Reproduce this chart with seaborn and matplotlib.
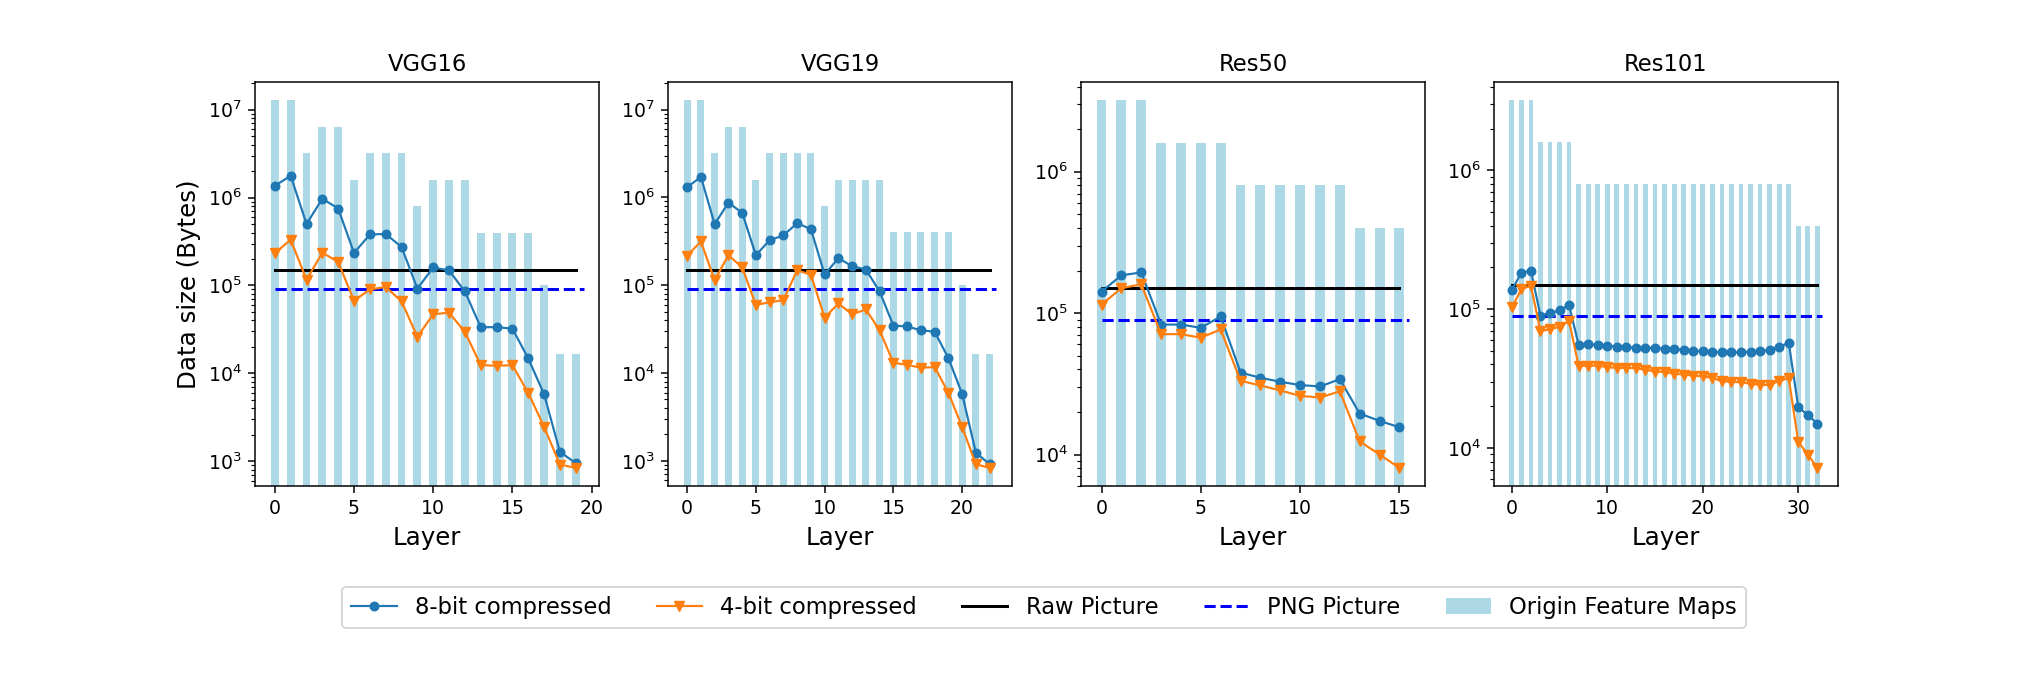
"""
Compressed feature map size per layer vs raw / PNG picture size.
Output: out.png
"""

import numpy as np
import pandas as pd
import matplotlib
matplotlib.use("Agg")
import matplotlib.pyplot as plt
import seaborn as sns

# ==========================================
# 1. DATA (Bytes)
# ==========================================
MODELS = ["VGG16", "VGG19", "Res50", "Res101"]

RAW_PICTURE = 1.5e5
PNG_PICTURE = 9.0e4

vgg16_maps = [1.28e7, 1.28e7, 3.2e6, 6.4e6, 6.4e6, 1.6e6, 3.2e6, 3.2e6, 3.2e6, 8.0e5,
              1.6e6, 1.6e6, 1.6e6, 4.0e5, 4.0e5, 4.0e5, 4.0e5, 1.0e5, 1.64e4, 1.64e4]
vgg16_8bit = [1.36e6, 1.77e6, 5.0e5, 9.7e5, 7.5e5, 2.34e5, 3.8e5, 3.85e5, 2.74e5, 9.2e4,
              1.6e5, 1.48e5, 8.55e4, 3.35e4, 3.35e4, 3.23e4, 1.48e4, 5.8e3, 1.28e3, 9.5e2]
vgg16_4bit = [2.32e5, 3.32e5, 1.16e5, 2.36e5, 1.85e5, 6.7e4, 9.0e4, 9.6e4, 6.6e4, 2.6e4,
              4.7e4, 4.9e4, 2.96e4, 1.24e4, 1.22e4, 1.24e4, 6.0e3, 2.47e3, 9.16e2, 8.4e2]

vgg19_maps = [1.28e7, 1.28e7, 3.2e6, 6.4e6, 6.4e6, 1.6e6, 3.2e6, 3.2e6, 3.2e6, 3.2e6,
              8.0e5, 1.6e6, 1.6e6, 1.6e6, 1.6e6, 4.0e5, 4.0e5, 4.0e5, 4.0e5, 4.0e5,
              1.0e5, 1.64e4, 1.64e4]
vgg19_8bit = [1.31e6, 1.71e6, 4.97e5, 8.7e5, 6.7e5, 2.2e5, 3.26e5, 3.69e5, 5.1e5, 4.35e5,
              1.33e5, 2.03e5, 1.65e5, 1.51e5, 8.5e4, 3.47e4, 3.4e4, 3.07e4, 2.96e4, 1.48e4,
              5.8e3, 1.24e3, 9.16e2]
vgg19_4bit = [2.18e5, 3.15e5, 1.14e5, 2.2e5, 1.6e5, 5.97e4, 6.4e4, 6.75e4, 1.48e5, 1.32e5,
              4.28e4, 6.2e4, 4.67e4, 5.3e4, 3.07e4, 1.31e4, 1.24e4, 1.15e4, 1.17e4, 5.97e3,
              2.44e3, 9.16e2, 8.32e2]

res50_maps = [3.2e6, 3.2e6, 3.2e6, 1.6e6, 1.6e6, 1.6e6, 1.6e6, 8.0e5, 8.0e5, 8.0e5,
              8.0e5, 8.0e5, 8.0e5, 4.0e5, 4.0e5, 4.0e5]
res50_8bit = [1.42e5, 1.85e5, 1.94e5, 8.3e4, 8.3e4, 7.87e4, 9.47e4, 3.8e4, 3.49e4, 3.27e4,
              3.1e4, 3.03e4, 3.41e4, 1.95e4, 1.73e4, 1.56e4]
res50_4bit = [1.15e5, 1.5e5, 1.6e5, 7.1e4, 7.1e4, 6.7e4, 7.66e4, 3.32e4, 3.08e4, 2.84e4,
              2.6e4, 2.53e4, 2.8e4, 1.24e4, 1.0e4, 8.05e3]

res101_maps = [3.2e6, 3.2e6, 3.2e6, 1.6e6, 1.6e6, 1.6e6, 1.6e6, 8.0e5, 8.0e5, 8.0e5,
               8.0e5, 8.0e5, 8.0e5, 8.0e5, 8.0e5, 8.0e5, 8.0e5, 8.0e5, 8.0e5, 8.0e5,
               8.0e5, 8.0e5, 8.0e5, 8.0e5, 8.0e5, 8.0e5, 8.0e5, 8.0e5, 8.0e5, 8.0e5,
               4.0e5, 4.0e5, 4.0e5]
res101_8bit = [1.37e5, 1.83e5, 1.9e5, 9.0e4, 9.4e4, 9.8e4, 1.07e5, 5.53e4, 5.6e4, 5.56e4,
               5.44e4, 5.38e4, 5.33e4, 5.3e4, 5.27e4, 5.27e4, 5.21e4, 5.18e4, 5.1e4, 5.04e4,
               4.98e4, 4.93e4, 4.88e4, 4.88e4, 4.9e4, 4.95e4, 4.98e4, 5.1e4, 5.33e4, 5.75e4,
               1.97e4, 1.73e4, 1.5e4]
res101_4bit = [1.03e5, 1.39e5, 1.48e5, 6.95e4, 7.18e4, 7.47e4, 8.2e4, 3.91e4, 3.91e4, 3.93e4,
               3.82e4, 3.78e4, 3.78e4, 3.76e4, 3.66e4, 3.56e4, 3.52e4, 3.44e4, 3.38e4, 3.33e4,
               3.28e4, 3.2e4, 3.03e4, 3.0e4, 2.98e4, 2.9e4, 2.86e4, 2.84e4, 3.06e4, 3.18e4,
               1.11e4, 8.97e3, 7.2e3]

FEATURE_MAPS = [vgg16_maps, vgg19_maps, res50_maps, res101_maps]
COMP_8BIT = [vgg16_8bit, vgg19_8bit, res50_8bit, res101_8bit]
COMP_4BIT = [vgg16_4bit, vgg19_4bit, res50_4bit, res101_4bit]

LABELS = ["8-bit compressed", "4-bit compressed", "Raw Picture", "PNG Picture",
          "Origin Feature Maps"]

# ==========================================
# 2. PLOT
# ==========================================
DPI = 136
fig, axes = plt.subplots(1, 4, figsize=(2042 / DPI, 682 / DPI), dpi=DPI)
fig.subplots_adjust(left=0.125, right=0.9, top=0.88, bottom=0.287, wspace=0.2)

for ax, model, maps, c8, c4 in zip(axes, MODELS, FEATURE_MAPS, COMP_8BIT, COMP_4BIT):
    n = len(maps)
    layers = np.arange(n)
    df = pd.DataFrame({"Layer": layers, "maps": maps, "c8": c8, "c4": c4})
    ax.set_yscale("log")

    # origin feature maps as bars
    sns.barplot(data=df, x="Layer", y="maps", native_scale=True, width=0.5,
                color="lightblue", saturation=1, errorbar=None,
                label=LABELS[4], ax=ax, zorder=1)

    sns.lineplot(data=df, x="Layer", y="c8", color="#1f77b4", marker="o",
                 markersize=4.5, markeredgecolor="#1f77b4", linewidth=1.15,
                 label=LABELS[0], ax=ax, zorder=3)
    sns.lineplot(data=df, x="Layer", y="c4", color="#ff7f0e", marker="v",
                 markersize=5.5, markeredgecolor="#ff7f0e", linewidth=1.15,
                 label=LABELS[1], ax=ax, zorder=3)

    sns.lineplot(x=[0, n - 1], y=[RAW_PICTURE, RAW_PICTURE], color="k",
                 linewidth=1.6, label=LABELS[2], ax=ax, zorder=2)
    sns.lineplot(x=[0, n - 0.5], y=[PNG_PICTURE, PNG_PICTURE], color="b",
                 linestyle="--", linewidth=1.6, label=LABELS[3], ax=ax, zorder=2)

    if ax.get_legend() is not None:
        ax.get_legend().remove()

    # limits like matplotlib's auto margins (5% of the log range)
    lo = np.log10(min(min(c8), min(c4)))
    hi = np.log10(max(maps))
    pad = 0.05 * (hi - lo)
    ax.set_ylim(10 ** (lo - pad), 10 ** (hi + pad))
    x_lo, x_hi = -0.25, n - 0.5
    xpad = 0.05 * (x_hi - x_lo)
    ax.set_xlim(x_lo - xpad, x_hi + xpad)

    ax.set_title(model, fontsize=12)
    ax.set_xlabel("Layer", fontsize=13)
    ax.set_ylabel("")
    ax.tick_params(labelsize=10)

axes[0].set_ylabel("Data size (Bytes)", fontsize=13)

# legend in the order of the original
handles, labels = axes[0].get_legend_handles_labels()
lookup = dict(zip(labels, handles))
fig.legend([lookup[l] for l in LABELS], LABELS, loc="center", ncol=5, fontsize=12,
           bbox_to_anchor=(1044 / 2042, 74.5 / 682))

plt.savefig("out.png", dpi=DPI)
plt.close()
